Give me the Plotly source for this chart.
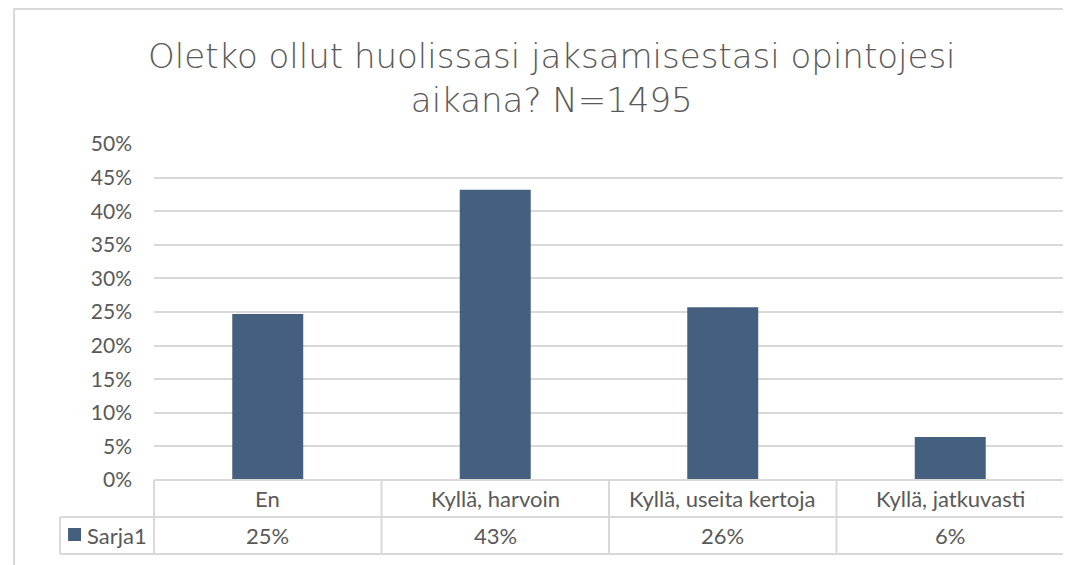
import plotly.graph_objects as go

categories = ["En", "Kyllä, harvoin", "Kyllä, useita kertoja", "Kyllä, jatkuvasti"]
values = [0.247, 0.432, 0.257, 0.064]
series_name = "Sarja1"
value_labels = ["25%", "43%", "26%", "6%"]
y_ticks = [0, 0.05, 0.10, 0.15, 0.20, 0.25, 0.30, 0.35, 0.40, 0.45, 0.50]
title_text = "Oletko ollut huolissasi jaksamisestasi opintojesi<br>aikana? N=1495"

OFF = 8  # browser default body margin
W, H = 1071 - OFF, 565 - OFF
PL, PR, PT, PB = 154, 1064.5, 144, 480
ML, MR, MT, MB = PL - OFF, W - (PR - OFF), PT - OFF, H - (PB - OFF)
PW = W - ML - MR
PH = H - MT - MB

BAR = "#44607E"
GRID = "#D9D9D9"
TXT = "#595959"
FONT = "Lato, 'Open Sans', sans-serif"

def px_x(p):
    return (p - PL) / PW

def px_y(p):
    return (PB - p) / PH

row_h = 37 / PH
n = len(categories)

fig = go.Figure()
fig.add_trace(go.Bar(x=categories, y=values, name=series_name,
                     marker=dict(color=BAR, line=dict(width=0)),
                     hoverinfo="skip", showlegend=False))

shapes = []
line_style = dict(color=GRID, width=2)
shapes.append(dict(type="line", xref="paper", yref="paper", x0=0, x1=1, y0=0, y1=0, line=line_style, layer="above"))
shapes.append(dict(type="line", xref="paper", yref="paper", x0=px_x(60), x1=1, y0=-row_h, y1=-row_h, line=line_style))
shapes.append(dict(type="line", xref="paper", yref="paper", x0=px_x(60), x1=1, y0=-2 * row_h, y1=-2 * row_h, line=line_style))
for i in range(n + 1):
    shapes.append(dict(type="line", xref="paper", yref="paper", x0=i / n, x1=i / n, y0=-2 * row_h, y1=0, line=line_style))
shapes.append(dict(type="line", xref="paper", yref="paper", x0=px_x(60), x1=px_x(60), y0=-2 * row_h, y1=-row_h, line=line_style))
shapes.append(dict(type="rect", xref="paper", yref="paper", x0=px_x(68), x1=px_x(81), y0=px_y(541), y1=px_y(528),
                   fillcolor=BAR, line=dict(width=0)))
shapes.append(dict(type="rect", xref="paper", yref="paper", x0=px_x(14), x1=px_x(1100), y0=px_y(600), y1=px_y(9),
                   line=dict(color=GRID, width=2), fillcolor="rgba(0,0,0,0)"))

tfont = dict(family=FONT, size=22, color=TXT)
annotations = []
for c, lab in zip(categories, value_labels):
    annotations.append(dict(x=c, xref="x", y=-0.5 * row_h, yref="paper", text=c, showarrow=False,
                            xanchor="center", yanchor="middle", font=tfont))
    annotations.append(dict(x=c, xref="x", y=-1.5 * row_h, yref="paper", text=lab, showarrow=False,
                            xanchor="center", yanchor="middle", font=tfont))
annotations.append(dict(x=px_x(85), xref="paper", y=-1.5 * row_h, yref="paper", text=series_name, showarrow=False,
                        xanchor="left", yanchor="middle", font=tfont))

title_font = dict(family="DejaVu Sans", size=34, color=TXT, weight=200)
annotations.append(dict(x=px_x(552.5), xref="paper", y=px_y(78), yref="paper", text=title_text, showarrow=False,
                        xanchor="center", yanchor="middle", font=title_font))

fig.update_layout(
    width=W, height=H,
    margin=dict(l=ML, r=MR, t=MT, b=MB, autoexpand=False),
    paper_bgcolor="white", plot_bgcolor="white",
    bargap=0.688,
    xaxis=dict(showticklabels=False, showgrid=False, zeroline=False, showline=False,
               range=[-0.5, n - 0.5], fixedrange=True),
    yaxis=dict(range=[0, 0.5], tickvals=y_ticks, tickformat=".0%", showgrid=True, gridcolor=GRID, gridwidth=2,
               zeroline=False, showline=False, ticks="", ticklabelstandoff=21,
               tickfont=dict(family=FONT, size=21, color=TXT), fixedrange=True),
    shapes=shapes,
    annotations=annotations,
    showlegend=False,
)

fig.write_html("out.html")
